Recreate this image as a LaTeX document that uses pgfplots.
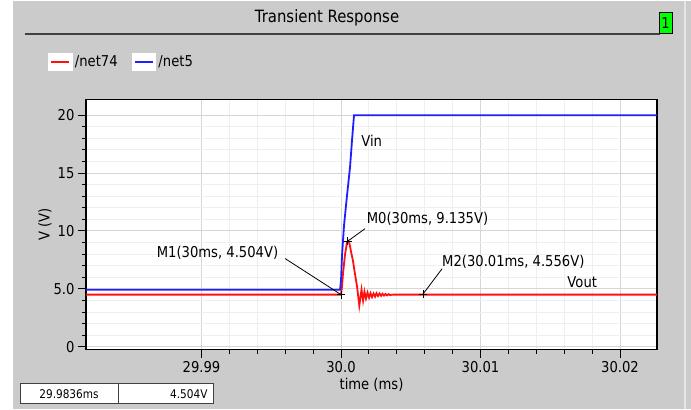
\documentclass[border=0pt]{standalone}
\usepackage{fontspec}
\setmainfont{DejaVu Sans}[FakeStretch=0.88]
\usepackage{pgfplots}
\pgfplotsset{compat=1.18}

\definecolor{panel}{HTML}{CBCBCB}
\definecolor{gridmaj}{HTML}{D6D6D6}
\definecolor{gridmin}{HTML}{EFEFEF}
\definecolor{netred}{HTML}{FF1010}
\definecolor{netblue}{HTML}{1E1EFF}
\definecolor{runner}{HTML}{00FF00}

\newcommand{\tf}{\fontsize{15}{17}\selectfont}

\begin{document}
\begin{tikzpicture}[font=\tf]
% window background, 691 x 408 bp
\fill[white] (0bp,0bp) rectangle (691bp,408bp);
\fill[panel] (13bp,0bp) rectangle (691bp,408bp);
\draw[white!90!black, line width=1.5bp] (685bp,0bp) -- (685bp,408bp);
% title bar
\node at (327bp,391bp) {\fontsize{17}{19}\selectfont Transient Response};
\draw[black!75, line width=2bp] (25bp,374.5bp) -- (660bp,374.5bp);
\draw[fill=runner, draw=black, line width=0.8bp] (659bp,375bp) rectangle (672bp,396bp);
\node at (665.5bp,385.5bp) {1};
% readout boxes
\draw[fill=white, draw=black!75, line width=1bp] (20.5bp,5bp) rectangle (118bp,25bp);
\draw[fill=white, draw=black!75, line width=1bp] (118bp,5bp) rectangle (213bp,25bp);
\node[font=\fontsize{12}{14}\selectfont] at (69bp,15bp) {29.9836ms};
\node[font=\fontsize{12}{14}\selectfont, anchor=east] at (211bp,15bp) {4.504V};

\begin{axis}[
    at={(86bp,59bp)}, anchor=south west,
    scale only axis, width=571bp, height=250bp,
    xmin=-18.28, xmax=22.65,
    ymin=-0.26, ymax=21.34,
    xtick={-10,0,10,20},
    xticklabels={29.99,30.0,30.01,30.02},
    ytick={0,5,10,15,20},
    yticklabels={0,5.0,10,15,20},
    minor x tick num=4,
    minor y tick num=4,
    grid=both,
    major grid style={gridmaj, line width=1bp},
    minor grid style={gridmin, line width=1bp},
    tick align=outside,
    tick pos=left,
    major tick length=8bp,
    minor tick length=4bp,
    tick style={black, line width=1bp},
    axis line style={black, line width=1.3bp},
    axis background/.style={fill=white},
    ticklabel style={font=\tf},
    xlabel={time (ms)},
    ylabel={V (V)},
    every axis x label/.style={at={(axis description cs:0.5,-0.14)}, anchor=center, font=\tf},
    every axis y label/.style={at={(axis description cs:-0.0718,0.5)}, rotate=90, anchor=center, font=\tf},
    legend columns=2,
    legend style={at={(axis description cs:-0.0666,1.152)}, anchor=west,
        draw=none, fill=none, inner sep=0pt, font=\tf,
        /tikz/every even column/.append style={column sep=12bp}},
    legend image code/.code={
        \fill[white] (0bp,-8bp) rectangle (23bp,8bp);
        \draw[#1, line width=2bp] (2bp,0bp) -- (20bp,0bp);},
]
% /net74 (Vout)
\addplot[color=netred, line width=1.8bp] coordinates {
    (-18.28,4.504) (0,4.504) (0.07,5.2) (0.14,6.3) (0.29,8.0) (0.43,9.0)
    (0.5,9.135) (0.61,8.9) (0.72,8.2) (0.86,7.4) (1.0,6.3) (1.15,5.2)
    (1.31,3.55) (1.47,4.94) (1.58,3.98) (1.68,4.76) (1.79,4.16) (1.90,4.68)
    (2.01,4.24) (2.11,4.63) (2.22,4.29) (2.33,4.60) (2.44,4.33) (2.54,4.62)
    (2.65,4.38) (2.76,4.60) (2.87,4.40) (2.97,4.58) (3.08,4.42) (3.19,4.57)
    (3.30,4.44) (3.41,4.55) (3.51,4.46) (3.66,4.50) (4.0,4.504) (22.65,4.504)
};
\addlegendentry{/net74}
% /net5 (Vin)
\addplot[color=netblue, line width=1.8bp] coordinates {
    (-18.28,4.92) (-0.072,4.92) (0,5.71) (0.072,7.88) (0.215,10.48)
    (0.43,13.07) (0.645,15.5) (0.789,17.84) (0.932,20.0) (22.65,20.0)
};
\addlegendentry{/net5}
% marker leaders
\addplot[forget plot, black, line width=0.8bp] coordinates {(0,4.504) (-4.01,7.62)};
\addplot[forget plot, black, line width=0.8bp] coordinates {(0.5,9.135) (1.72,10.2)};
\addplot[forget plot, black, line width=0.8bp] coordinates {(5.88,4.556) (7.24,6.74)};
% markers M0, M1, M2
\addplot[forget plot, only marks, mark=+, mark size=4bp, black, line width=1bp] coordinates {
    (0,4.504) (0.5,9.135) (5.88,4.556)
};
\node[anchor=east] at (axis cs:-4.25,8.12) {M1(30ms, 4.504V)};
\node[anchor=west] at (axis cs:1.6,11.06) {M0(30ms, 9.135V)};
\node[anchor=west] at (axis cs:7.0,7.34) {M2(30.01ms, 4.556V)};
\node[anchor=east] at (axis cs:18.6,5.54) {Vout};
\node[anchor=west] at (axis cs:1.2,17.8) {Vin};
\end{axis}
\end{tikzpicture}
\end{document}
